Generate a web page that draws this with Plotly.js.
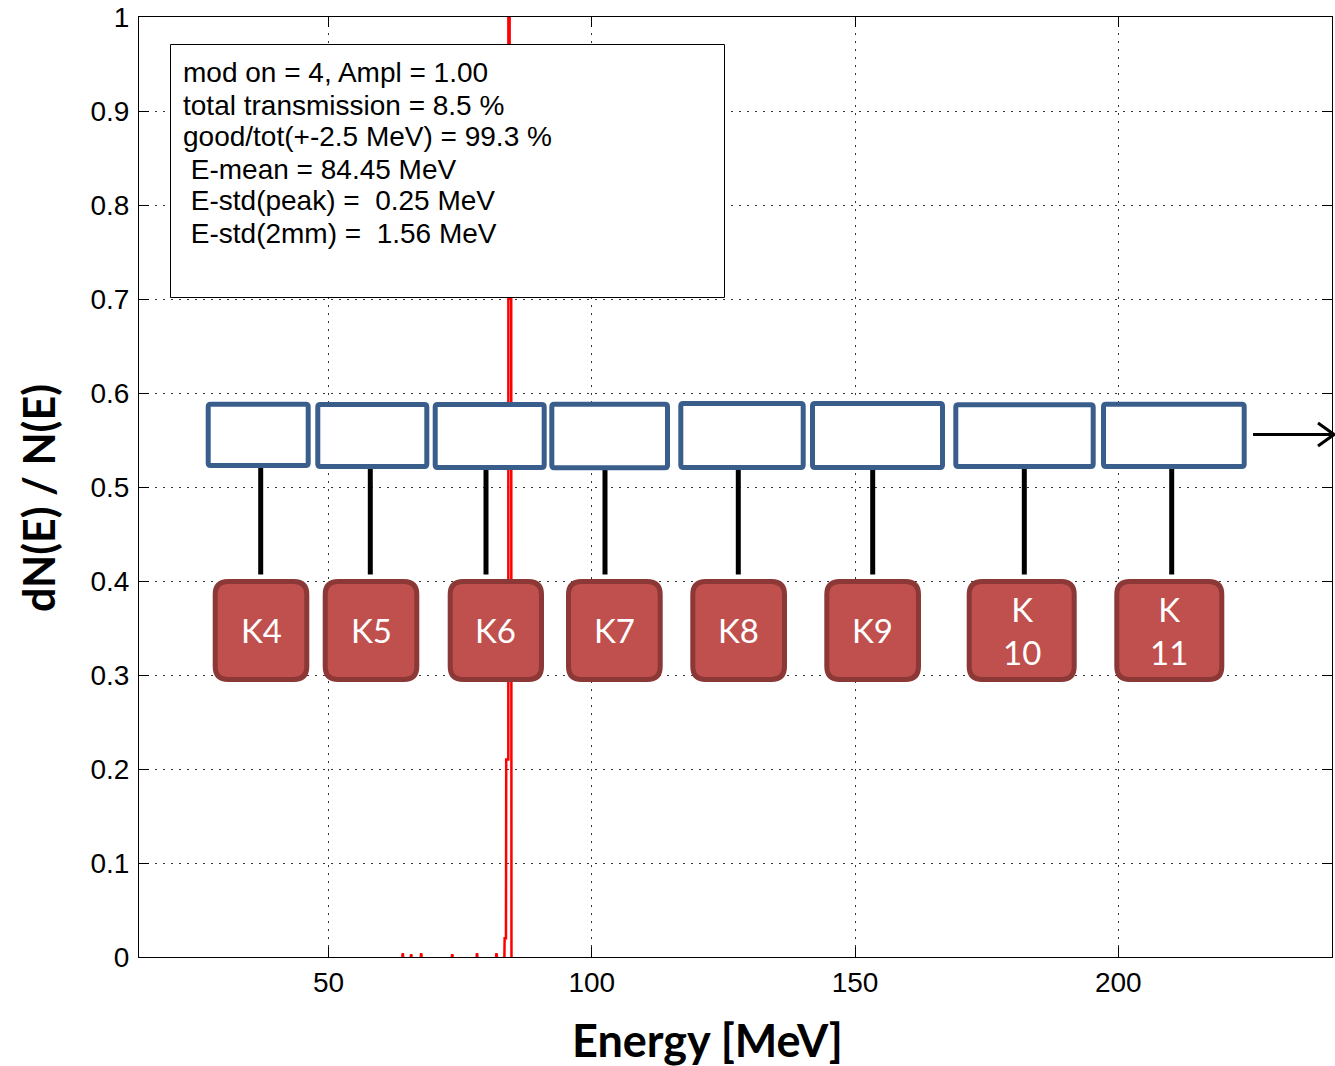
<!DOCTYPE html>
<html>
<head>
<meta charset="utf-8">
<script src="https://cdn.plot.ly/plotly-3.0.1.min.js"></script>
<style>html,body{margin:0;padding:0;background:#fff;}#chart{width:1335px;height:1066px;}</style>
</head>
<body>
<div id="chart"></div>
<script>
// ---- data (null = gap between separate histogram blips) ----
const energyMeV = [64.0, 64.1, 64.2, null, 65.6, 65.7, 65.8, null, 67.5, 67.6, 67.7, null, 73.4, 73.5, 73.6, null,
                   78.1, 78.2, 78.3, null, 81.8, 81.9, 82.0, null,
                   83.4, 83.45, 83.7, 83.75, 84.15, 84.3, 84.4, 84.7, 84.75, 85.0];
const dNdE = [0, 0.004, 0, null, 0, 0.003, 0, null, 0, 0.004, 0, null, 0, 0.003, 0, null,
              0, 0.004, 0, null, 0, 0.004, 0, null,
              0, 0.02, 0.02, 0.21, 0.21, 8.0, 0.7, 0.7, 0, 0];
const xTickVals = [50, 100, 150, 200];
const yTickVals = [0, 0.1, 0.2, 0.3, 0.4, 0.5, 0.6, 0.7, 0.8, 0.9, 1];
const yTickText = ['0', '0.1', '0.2', '0.3', '0.4', '0.5', '0.6', '0.7', '0.8', '0.9', '1'];
const xTitle = 'Energy [MeV]';
const yTitle = 'dN(E) / N(E)';
const statLines = [
  'mod on = 4, Ampl = 1.00',
  'total transmission = 8.5 %',
  'good/tot(+-2.5 MeV) = 99.3 %',
  '\u00a0E-mean = 84.45 MeV',
  '\u00a0E-std(peak) = \u00a00.25 MeV',
  '\u00a0E-std(2mm) = \u00a01.56 MeV'
];
const stationLabels = ['K4', 'K5', 'K6', 'K7', 'K8', 'K9', 'K<br>10', 'K<br>11'];

// ---- overlay geometry (pixels) ----
const blueBoxes = [[205.7,310.7,401.7,468],[315.3,429.3,402,469],[432.7,546.7,402,470],[549.3,670,401.7,470.3],
                   [678.3,805.7,401,470],[810,945,401,470],[953.3,1095.7,402.3,469],[1101,1246.7,401.7,469]];
const redBoxes = [[212.7,309.3],[322.7,419.3],[447.7,544],[566,662.7],[690.3,787],[824.3,921],[966.7,1076.7],[1114.3,1224.3]];
const connX = [260.7, 370.3, 486, 605, 738.3, 872.7, 1024.3, 1171.7];

const L = 139, R = 3, T = 17, B = 109, W = 1335, H = 1066;
const pw = W - L - R, ph = H - T - B;
const px = v => (v - L) / pw;
const py = v => (H - B - v) / ph;

function roundRectPath(x0, x1, y0, y1, r) {
  const P = (x, y) => px(x).toFixed(5) + ',' + py(y).toFixed(5);
  return 'M' + P(x0 + r, y0) + ' L' + P(x1 - r, y0) + ' Q' + P(x1, y0) + ' ' + P(x1, y0 + r) +
         ' L' + P(x1, y1 - r) + ' Q' + P(x1, y1) + ' ' + P(x1 - r, y1) +
         ' L' + P(x0 + r, y1) + ' Q' + P(x0, y1) + ' ' + P(x0, y1 - r) +
         ' L' + P(x0, y0 + r) + ' Q' + P(x0, y0) + ' ' + P(x0 + r, y0) + ' Z';
}

const shapes = [];
shapes.push({type: 'rect', xref: 'paper', yref: 'paper', x0: px(170.5), x1: px(724.5), y0: py(44.5), y1: py(297.5),
             line: {color: '#000', width: 1}, fillcolor: '#fff', layer: 'above'});
connX.forEach(x => shapes.push({type: 'line', xref: 'paper', yref: 'paper', x0: px(x), x1: px(x), y0: py(466), y1: py(574.5),
                                line: {color: '#000', width: 5}, layer: 'above'}));
blueBoxes.forEach(b => shapes.push({type: 'path', xref: 'paper', yref: 'paper',
  path: roundRectPath(b[0] + 2.5, b[1] - 2.5, b[2] + 2.5, b[3] - 2.5, 2.5),
  line: {color: '#3A5E8C', width: 5}, fillcolor: '#ffffff', layer: 'above'}));
redBoxes.forEach(b => shapes.push({type: 'path', xref: 'paper', yref: 'paper',
  path: roundRectPath(b[0] + 2.5, b[1] - 2.5, 579 + 2.5, 682 - 2.5, 13),
  line: {color: '#8C3836', width: 5}, fillcolor: '#C0504D', layer: 'above'}));
shapes.push({type: 'line', xref: 'paper', yref: 'paper', x0: px(1253), x1: px(1334), y0: py(434.5), y1: py(434.5),
             line: {color: '#000', width: 3}, layer: 'above'});
shapes.push({type: 'path', xref: 'paper', yref: 'paper',
             path: 'M' + px(1318) + ',' + py(423) + ' L' + px(1334) + ',' + py(434.5) + ' L' + px(1318) + ',' + py(446),
             line: {color: '#000', width: 3}, layer: 'above'});

const annotations = [];
statLines.forEach((t, i) => annotations.push({xref: 'paper', yref: 'paper', x: px(181), y: py(73 + 32 * i),
  xanchor: 'left', yanchor: 'middle', text: t, showarrow: false, align: 'left',
  font: {family: 'Liberation Sans, Arial, sans-serif', size: 28, color: '#000'}}));
stationLabels.forEach((t, i) => {
  const b = redBoxes[i];
  annotations.push({xref: 'paper', yref: 'paper', x: px((b[0] + b[1]) / 2), y: py(630),
    xanchor: 'center', yanchor: 'middle', text: t, showarrow: false, align: 'center',
    font: {family: 'Lato, Carlito, sans-serif', size: 33, color: '#fff'}});
});
// axis titles
annotations.push({xref: 'paper', yref: 'paper', x: px(707), y: py(1040), xanchor: 'center', yanchor: 'middle',
  text: '<b>' + xTitle + '</b>', showarrow: false,
  font: {family: 'Lato, Carlito, sans-serif', size: 45, color: '#000'}});
annotations.push({xref: 'paper', yref: 'paper', x: px(38), y: py(498), xanchor: 'center', yanchor: 'middle',
  text: '<b>' + yTitle + '</b>', showarrow: false, textangle: -90,
  font: {family: 'Lato, Carlito, sans-serif', size: 43, color: '#000'}});

const trace = {
  type: 'scatter', mode: 'lines', x: energyMeV, y: dNdE, connectgaps: false,
  line: {color: '#FF0000', width: 2.5}, hoverinfo: 'skip', cliponaxis: true
};

const axisCommon = {
  showline: true, linecolor: '#000', linewidth: 1, mirror: 'ticks',
  ticks: 'inside', ticklen: 10, tickcolor: '#000', tickwidth: 1,
  showgrid: true, gridcolor: '#333', gridwidth: 1, griddash: '2px,6px',
  zeroline: false, tickfont: {family: 'Liberation Sans, Arial, sans-serif', size: 28, color: '#000'}
};

const layout = {
  width: W, height: H,
  margin: {l: L, r: R, t: T, b: B},
  paper_bgcolor: '#fff', plot_bgcolor: '#fff',
  showlegend: false,
  xaxis: Object.assign({}, axisCommon, {
    range: [14, 240.6], tickvals: xTickVals, ticklabelstandoff: 0
  }),
  yaxis: Object.assign({}, axisCommon, {
    range: [0, 1], tickvals: yTickVals, ticktext: yTickText, ticklabelstandoff: 3
  }),
  shapes: shapes,
  annotations: annotations
};

Plotly.newPlot('chart', [trace], layout, {staticPlot: true, displayModeBar: false});
</script>
</body>
</html>
